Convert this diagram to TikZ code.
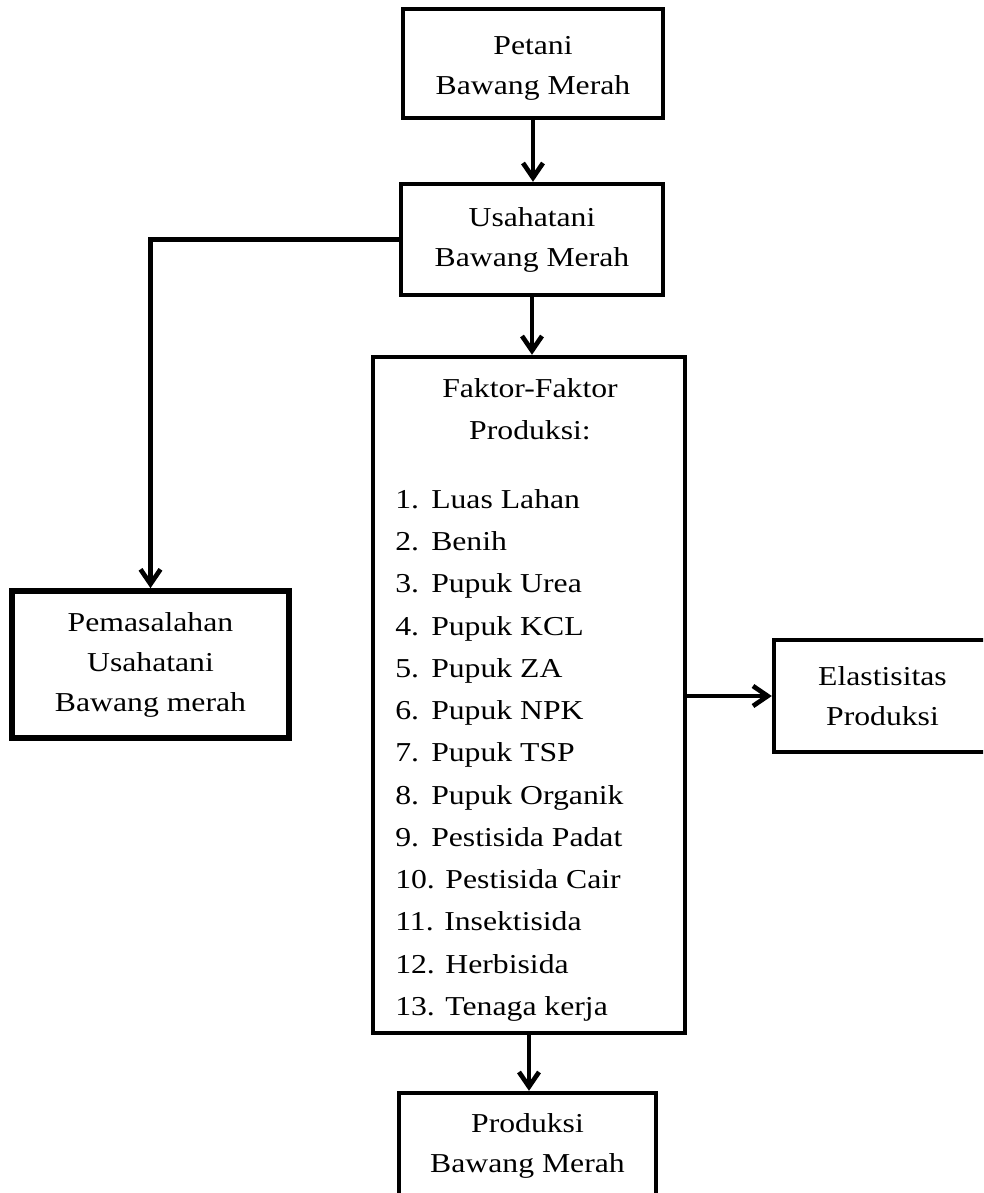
\documentclass[tikz,border=0pt]{standalone}
\usepackage{fontspec}
\setmainfont{Liberation Serif}[FakeStretch=1.16]
\usetikzlibrary{arrows.meta,positioning,calc}
\newcommand{\itm}[2]{\makebox[27pt][l]{#1}#2}
\begin{document}
\begin{tikzpicture}[x=0.75pt,y=-0.75pt,
  boxtext/.style={font=\fontsize{20.5}{30}\selectfont, align=center},
  box/.style={draw, line width=3.3pt, rectangle, inner sep=0pt, boxtext},
  thickbox/.style={box, line width=4.3pt},
  arr/.style={line width=3.5pt, -{Straight Barb[length=11pt,width=15pt]}},
  plain/.style={inner sep=0pt, font=\fontsize{20.5}{31.7}\selectfont}]
\useasboundingbox (0,0) rectangle (983,1193);
\clip (0,0) rectangle (983,1193);

\node[box, minimum width=195pt, minimum height=81.75pt] (petani) at (533,63.5)
  {\rule{0pt}{20.8pt}Petani\\Bawang Merah};
\node[box, minimum width=196.5pt, minimum height=83.25pt] (usaha) at (532,239.5)
  {Usahatani\\Bawang Merah};
\node[thickbox, minimum width=207.75pt, minimum height=110.25pt] (pemas) at (150.5,664.5)
  {Pemasalahan\\Usahatani\\Bawang merah};
\node[box, minimum width=234pt, minimum height=507pt] (faktor) at (529,695) {};
\node[plain, align=center, anchor=north] (ftitle) at (530,378)
  {Faktor-Faktor\\Produksi:};
\node[plain, align=left, anchor=north west] (flist) at (395,489)
  {\itm{1.}{Luas Lahan}\\
   \itm{2.}{Benih}\\
   \itm{3.}{Pupuk Urea}\\
   \itm{4.}{Pupuk KCL}\\
   \itm{5.}{Pupuk ZA}\\
   \itm{6.}{Pupuk NPK}\\
   \itm{7.}{Pupuk TSP}\\
   \itm{8.}{Pupuk Organik}\\
   \itm{9.}{Pestisida Padat}\\
   10. Pestisida Cair\\
   11. Insektisida\\
   12. Herbisida\\
   13. Tenaga kerja};
\node[box, minimum width=162.75pt, minimum height=84pt] (elast) at (882.5,696)
  {Elastisitas\\Produksi};
\node[box, minimum width=192.75pt, minimum height=79.5pt] (prod) at (527.5,1146)
  {Produksi\\Bawang Merah};

\draw[arr] (petani.south) -- (petani.south |- usaha.north);
\draw[arr] (usaha.west) -| (pemas.north);
\draw[arr] (usaha.south) -- (usaha.south |- faktor.north);
\draw[arr] (faktor.east |- elast.west) -- (elast.west);
\draw[arr] (faktor.south) -- (faktor.south |- prod.north);
\end{tikzpicture}
\end{document}
